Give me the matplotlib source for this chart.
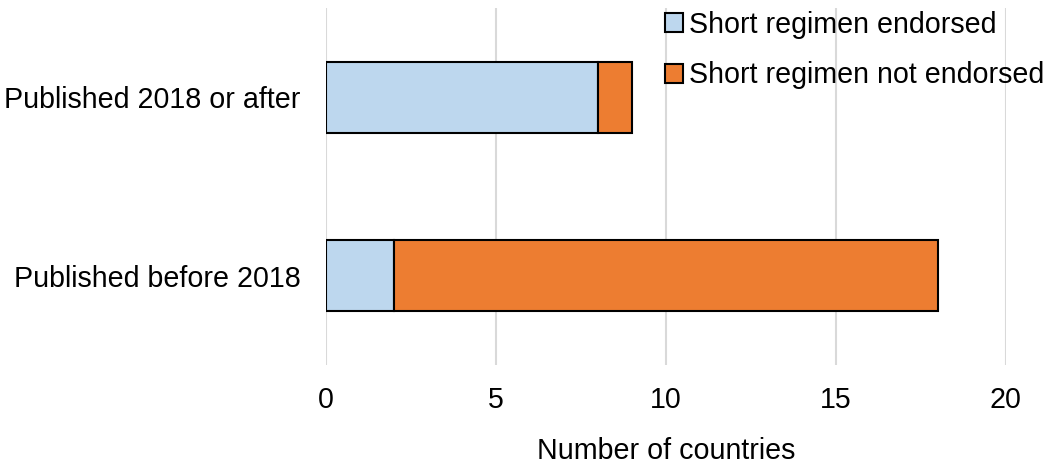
import matplotlib
matplotlib.use("Agg")
import matplotlib.pyplot as plt

categories = ["Published before 2018", "Published 2018 or after"]
endorsed = [2, 8]
not_endorsed = [16, 1]
series_labels = ["Short regimen endorsed", "Short regimen not endorsed"]
xticks = [0, 5, 10, 15, 20]

plt.rcParams['font.family'] = ['Liberation Sans', 'DejaVu Sans']
FS = 20.6

fig = plt.figure(figsize=(10.5, 4.69), dpi=100)
ax = fig.add_axes([0.3105, 0.222, 0.6475, 0.761])

y = list(range(len(categories)))
ax.barh(y, endorsed, height=0.4, color="#BDD7EE", edgecolor="black", linewidth=1.5, label=series_labels[0], zorder=3)
ax.barh(y, not_endorsed, left=endorsed, height=0.4, color="#ED7D31", edgecolor="black", linewidth=1.5, label=series_labels[1], zorder=3)

ax.set_xlim(0, 20)
ax.set_ylim(-0.5, 1.5)
ax.set_xticks(xticks)
ax.set_xticklabels([str(t) for t in xticks])
ax.set_yticks(y)
ax.set_yticklabels(categories)
ax.tick_params(axis="both", length=0, labelsize=FS)
ax.tick_params(axis="x", pad=15)
ax.tick_params(axis="y", pad=18.5)
ax.xaxis.grid(True, color="#D9D9D9", linewidth=1.5, zorder=0)
ax.set_axisbelow(True)
for s in ax.spines.values():
    s.set_visible(False)
ax.set_xlabel("Number of countries", fontsize=FS, labelpad=17)

leg = ax.legend(loc="upper left", bbox_to_anchor=(0.46, 1.065), frameon=False, fontsize=FS,
                handlelength=0.65, handleheight=0.65, handletextpad=0.2, labelspacing=0.8)

fig.savefig("out.png", dpi=100)
